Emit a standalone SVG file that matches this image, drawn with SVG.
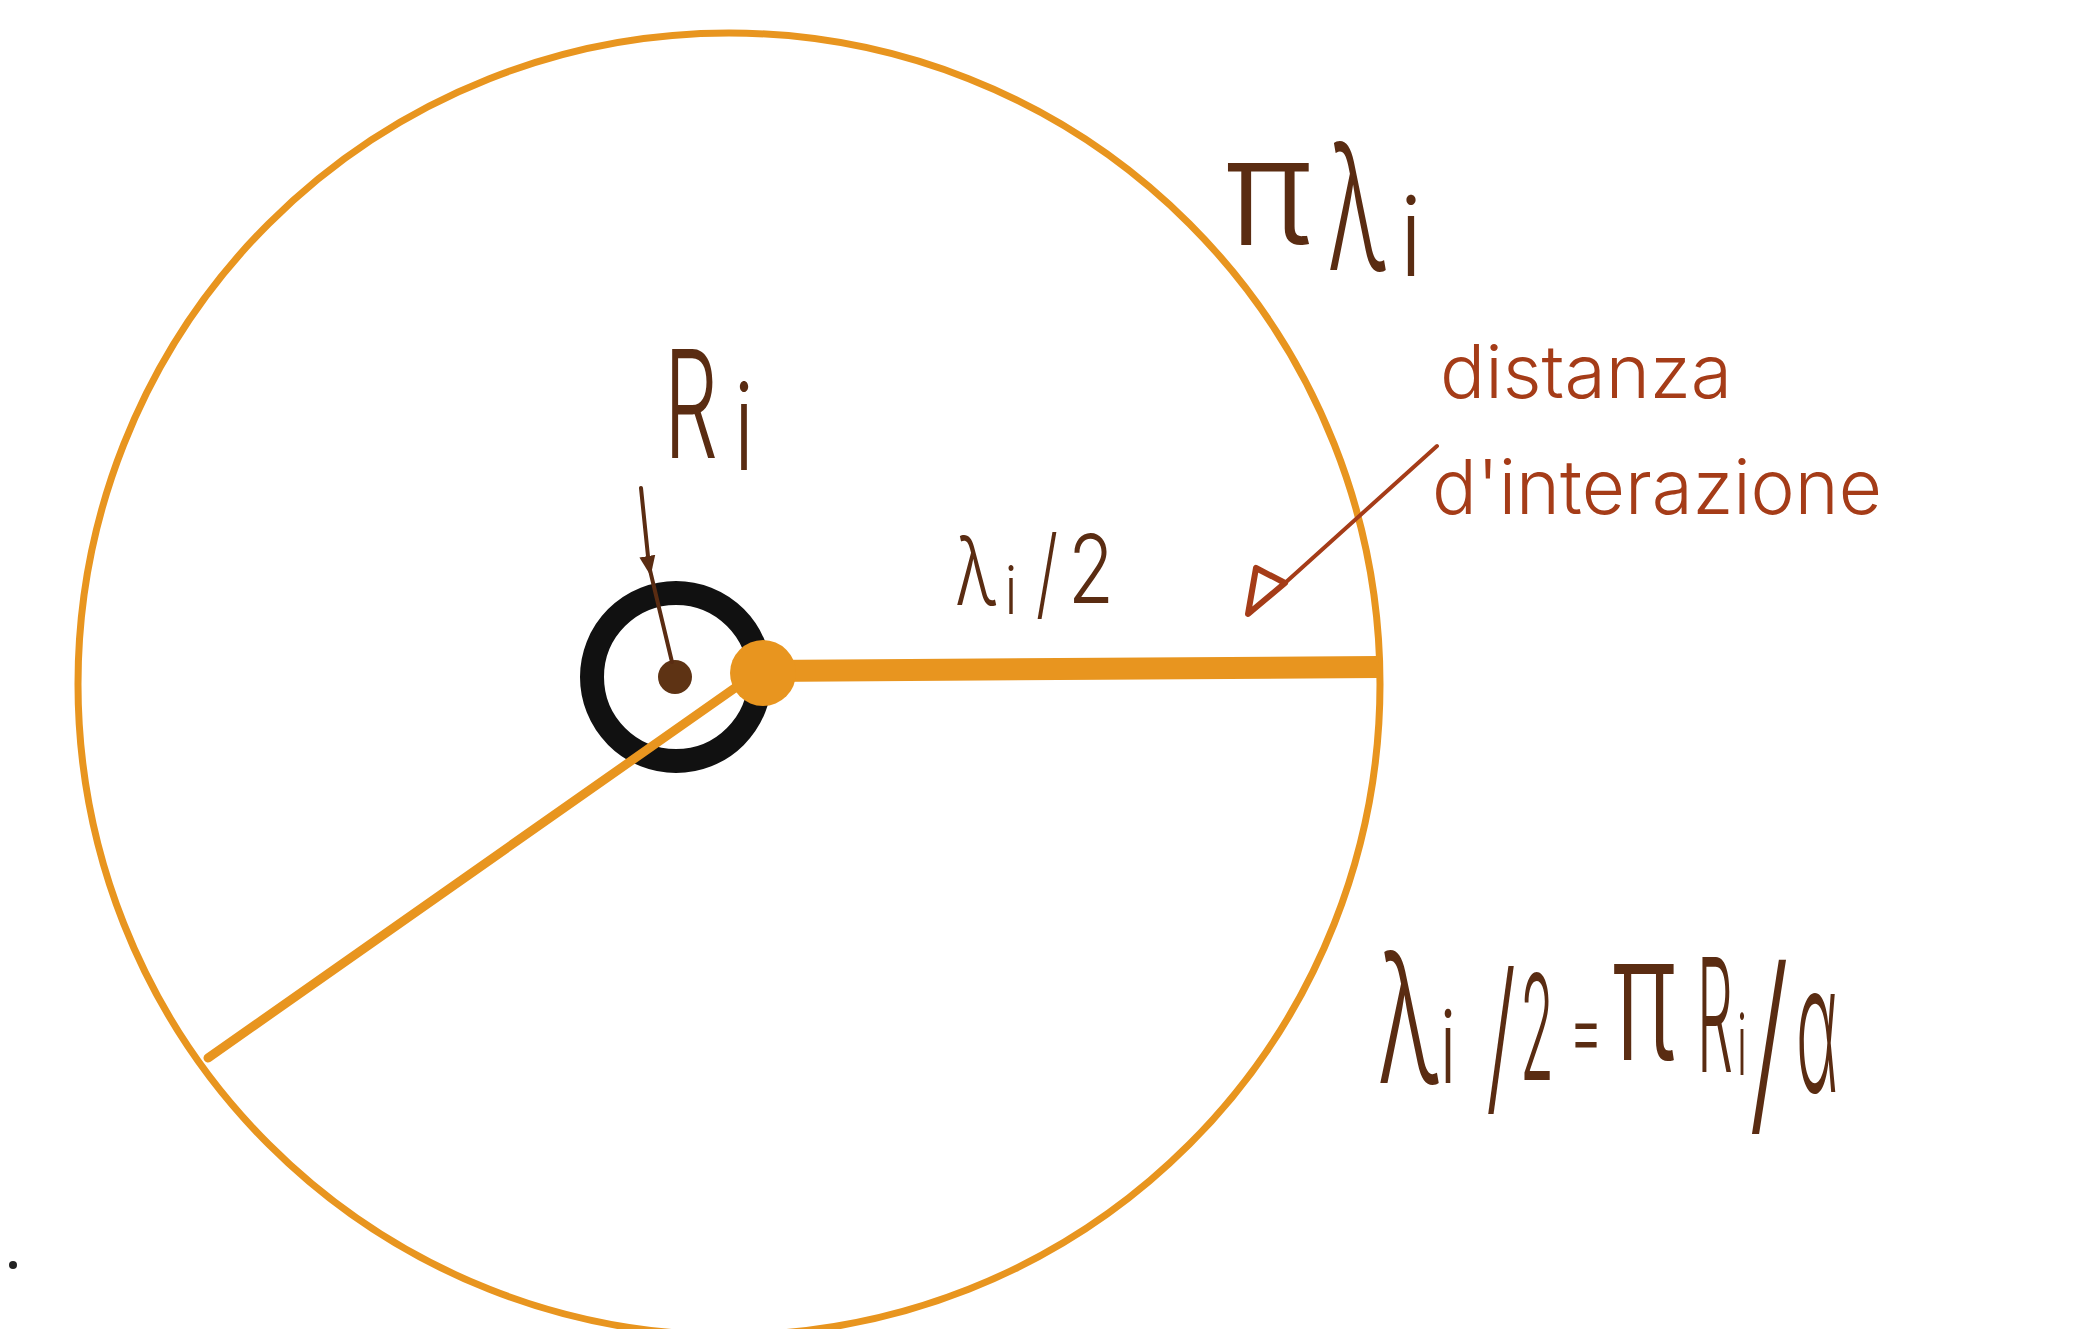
<svg xmlns="http://www.w3.org/2000/svg" width="2081" height="1329" viewBox="0 0 2081 1329">
<style>
.or{stroke:#e8951f;fill:none}
.hw{font-family:Inter,"Liberation Sans",sans-serif;font-weight:300;fill:#5a2c12}
.red{font-family:Inter,"Liberation Sans",sans-serif;font-weight:300;fill:#a53c18}
</style>
<defs>
<marker id="brownHead" viewBox="0 0 10 10" refX="5" refY="5" markerWidth="5" markerHeight="5" orient="auto" markerUnits="strokeWidth">
<path d="M0,1 L10,5 L0,9 Z" fill="#5a2c12"/>
</marker>
</defs>
<rect width="2081" height="1329" fill="#ffffff"/>
<g id="outer-circle">
<circle cx="729" cy="684" r="651" class="or" stroke-width="7"/>
</g>
<g id="particle-ring">
<circle cx="676" cy="677" r="84" fill="none" stroke="#111111" stroke-width="24"/>
</g>
<g id="particle-center">
<circle cx="675" cy="677" r="17" fill="#5e3314"/>
</g>
<g id="connectors">
<line x1="763" y1="671" x2="1379" y2="667" class="or" stroke-width="22" stroke-linecap="butt"/>
<line x1="208" y1="1058" x2="742" y2="683" class="or" stroke-width="9" stroke-linecap="round"/>
<path d="M641,488 L649,566 L672,662" fill="none" stroke="#5a2c12" stroke-width="4" stroke-linecap="round" marker-mid="url(#brownHead)"/>
<line x1="1437" y1="446" x2="1285" y2="583" stroke="#a53c18" stroke-width="4" stroke-linecap="round"/>
<path d="M1285,583 L1256,568 L1248,614 Z" fill="none" stroke="#a53c18" stroke-width="6" stroke-linejoin="round"/>
</g>
<g id="knob">
<circle cx="763" cy="673" r="33" fill="#e8951f"/>
</g>
<g id="label-pi-lambda">
<text class="hw"><tspan x="1225" y="245" font-size="150" textLength="87" lengthAdjust="spacingAndGlyphs">π</tspan><tspan x="1327" y="270" font-size="175" textLength="60" lengthAdjust="spacingAndGlyphs">λ</tspan><tspan x="1400" y="276" font-size="110" textLength="22" lengthAdjust="spacingAndGlyphs">i</tspan></text>
</g>
<g id="label-Ri">
<text class="hw"><tspan x="664" y="458" font-size="150" textLength="54" lengthAdjust="spacingAndGlyphs">R</tspan><tspan x="734" y="470" font-size="120" textLength="20" lengthAdjust="spacingAndGlyphs">i</tspan></text>
</g>
<g id="label-lambda-half">
<text class="hw"><tspan x="955" y="605" font-size="95" textLength="42" lengthAdjust="spacingAndGlyphs">λ</tspan><tspan x="1005" y="614" font-size="65" textLength="12" lengthAdjust="spacingAndGlyphs">i</tspan><tspan x="1036" y="608" font-size="100" textLength="22" lengthAdjust="spacingAndGlyphs">/</tspan><tspan x="1068" y="603" font-size="95" textLength="46" lengthAdjust="spacingAndGlyphs">2</tspan></text>
</g>
<g id="label-distance">
<text class="red" x="1440" y="398" font-size="74" textLength="292" lengthAdjust="spacingAndGlyphs">distanza</text>
<text class="red" x="1432" y="514" font-size="76" textLength="450" lengthAdjust="spacingAndGlyphs">d'interazione</text>
</g>
<g id="equation">
<text class="hw"><tspan x="1377" y="1083" font-size="180" textLength="63" lengthAdjust="spacingAndGlyphs">λ</tspan><tspan x="1440" y="1083" font-size="100" textLength="16" lengthAdjust="spacingAndGlyphs">i</tspan><tspan x="1486" y="1095" font-size="170" textLength="30" lengthAdjust="spacingAndGlyphs">/</tspan><tspan x="1520" y="1080" font-size="147" textLength="34" lengthAdjust="spacingAndGlyphs">2</tspan><tspan x="1569" y="1061" font-size="90" textLength="34" lengthAdjust="spacingAndGlyphs">=</tspan><tspan x="1612" y="1060" font-size="176" textLength="64" lengthAdjust="spacingAndGlyphs">π</tspan><tspan x="1697" y="1072" font-size="158" textLength="36" lengthAdjust="spacingAndGlyphs">R</tspan><tspan x="1737" y="1075" font-size="85" textLength="10" lengthAdjust="spacingAndGlyphs">i</tspan><tspan x="1749" y="1112" font-size="200" textLength="40" lengthAdjust="spacingAndGlyphs">/</tspan><tspan x="1796" y="1092" font-size="180" textLength="42" lengthAdjust="spacingAndGlyphs">α</tspan></text>
</g>
<g id="dot">
<circle cx="13" cy="1265" r="4" fill="#222222"/>
</g>
</svg>
